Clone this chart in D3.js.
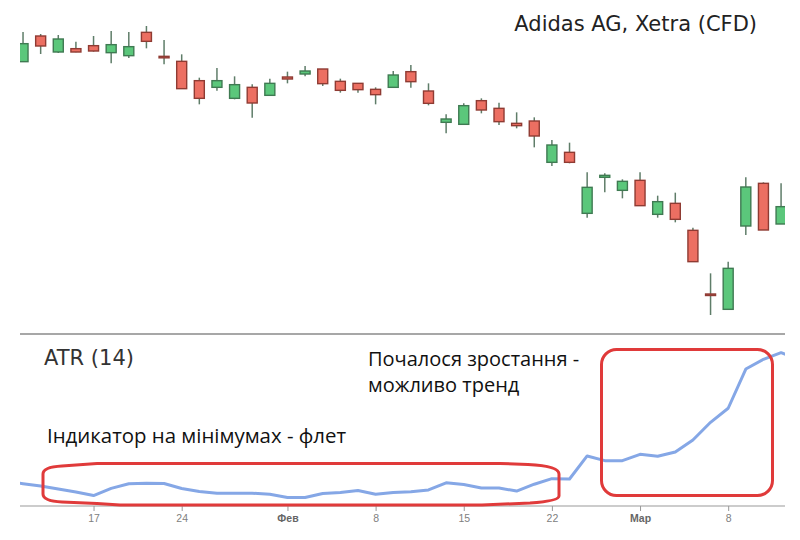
<!DOCTYPE html>
<html><head><meta charset="utf-8">
<script src="https://cdn.jsdelivr.net/npm/d3@7"></script>
<style>body{margin:0;background:#fff}svg{display:block}</style>
</head><body>
<script>
// ---- data ----
const dates = ["2022-01-10","2022-01-11","2022-01-12","2022-01-13","2022-01-14","2022-01-17","2022-01-18","2022-01-19","2022-01-20","2022-01-21","2022-01-24","2022-01-25","2022-01-26","2022-01-27","2022-01-28","2022-01-31","2022-02-01","2022-02-02","2022-02-03","2022-02-04","2022-02-07","2022-02-08","2022-02-09","2022-02-10","2022-02-11","2022-02-14","2022-02-15","2022-02-16","2022-02-17","2022-02-18","2022-02-21","2022-02-22","2022-02-23","2022-02-24","2022-02-25","2022-02-28","2022-03-01","2022-03-02","2022-03-03","2022-03-04","2022-03-07","2022-03-08","2022-03-09","2022-03-10","2022-03-11","2022-03-14"];
const candleDates = dates.slice(1, 45);
const open  = [252.5,260.2,255.4,256.4,257.3,255.2,254.3,261.3,254.1,252.6,246.8,244.8,241.5,244.8,242.4,247.9,248.8,250.3,246.6,246.0,244.2,244.8,249.5,243.7,234.3,233.7,240.8,238.5,234.0,234.7,222.3,225.3,207.0,217.8,213.9,216.9,206.7,210.0,201.9,182.8,178.2,203.2,216.0,203.8];
const high  = [261.4,260.8,260.5,258.5,260.2,261.7,261.4,263.2,259.0,254.7,247.7,250.6,248.1,245.7,247.4,249.5,251.2,250.3,247.4,246.0,244.8,249.7,251.5,246.0,236.7,240.0,241.5,240.2,237.3,235.8,229.0,228.2,219.3,219.0,217.2,219.3,212.3,213.2,202.7,189.0,192.5,217.8,216.3,216.0];
const low   = [252.5,254.8,255.1,255.3,255.5,252.0,253.6,256.5,251.7,244.4,239.7,243.8,241.2,235.7,242.4,246.0,248.1,245.2,243.2,243.2,239.7,244.8,244.7,239.4,231.0,233.7,237.0,233.5,232.5,226.8,221.2,222.0,205.7,213.3,211.5,209.3,205.7,204.3,192.5,176.5,178.2,200.5,202.0,203.8];
const close = [257.9,257.2,259.3,255.4,255.7,257.6,257.0,258.6,254.0,244.4,241.5,246.8,245.6,240.1,246.0,247.3,249.7,245.9,243.9,244.1,242.6,248.5,246.5,240.0,235.3,239.3,238.0,234.5,233.3,230.2,227.5,222.3,214.8,218.4,216.6,209.3,210.5,205.2,192.5,182.7,190.5,214.9,202.0,209.0];
const atr = [4.37,4.24,4.11,3.94,3.78,3.58,3.98,4.24,4.26,4.25,3.97,3.81,3.71,3.71,3.71,3.65,3.47,3.47,3.69,3.75,3.86,3.65,3.75,3.79,3.89,4.29,4.19,4.00,4.00,3.83,4.21,4.52,4.50,5.78,5.52,5.52,5.87,5.76,6.00,6.67,7.65,8.43,10.61,11.15,11.52,11.15];
const tickDates = ["2022-01-17","2022-01-24","2022-02-01","2022-02-08","2022-02-15","2022-02-22","2022-03-01","2022-03-08"];
const tickLabels = ["17","24","Фев","8","15","22","Мар","8"];
const tickBold = [false,false,true,false,false,false,true,false];

// ---- layout ----
const W = 800, H = 540;
const left = 20, right = 785;
const svg = d3.select("body").append("svg").attr("width", W).attr("height", H);

const x = d3.scalePoint().domain(dates).range([5.4, 798.7]);
const yP = d3.scaleLinear().domain([175, 265]).range([320, 20]);
const yA = d3.scaleLinear().domain([3, 12]).range([506, 344]);

svg.append("defs").append("clipPath").attr("id","clip")
  .append("rect").attr("x", left).attr("y", 0).attr("width", right - left).attr("height", H);

// separator line
svg.append("line").attr("x1", left).attr("x2", right).attr("y1", 334).attr("y2", 334)
  .attr("stroke", "#8a8a8a").attr("stroke-width", 1.5);

// candles
const candles = candleDates.map((d, i) => ({d, o: open[i], h: high[i], l: low[i], c: close[i]}));
const cg = svg.append("g").attr("clip-path", "url(#clip)");
const bw = 10;
const g = cg.selectAll("g.c").data(candles).enter().append("g");
g.append("line")
  .attr("x1", d => x(d.d)).attr("x2", d => x(d.d))
  .attr("y1", d => yP(d.h)).attr("y2", d => yP(d.l))
  .attr("stroke", "#5f7d69").attr("stroke-width", 1.5);
g.append("rect")
  .attr("x", d => x(d.d) - bw / 2)
  .attr("width", bw)
  .attr("y", d => yP(Math.max(d.o, d.c)))
  .attr("height", d => Math.max(1.5, Math.abs(yP(d.o) - yP(d.c))))
  .attr("fill", d => d.c >= d.o ? "#5bc77b" : "#ec6f62")
  .attr("stroke", d => d.c >= d.o ? "#3f7a52" : "#8f3b33")
  .attr("stroke-width", 1.4);

// ATR line
const ag = svg.append("g").attr("clip-path", "url(#clip)");
ag.append("path")
  .datum(dates.map((d, i) => ({d, v: atr[i]})))
  .attr("fill", "none").attr("stroke", "#85a7e6").attr("stroke-width", 3)
  .attr("stroke-linejoin", "round")
  .attr("d", d3.line().x(d => x(d.d)).y(d => yA(d.v)));

// axis
const axis = svg.append("g").attr("transform", "translate(0,506)")
  .call(d3.axisBottom(x).tickValues(tickDates).tickFormat((d, i) => tickLabels[i]).tickSize(5).tickPadding(4));
axis.select(".domain").remove();
axis.selectAll(".tick line").attr("stroke", "#999");
axis.selectAll(".tick text")
  .attr("fill", (d, i) => tickBold[i] ? "#666" : "#808080")
  .style("font-family", "'Liberation Sans', Arial, sans-serif")
  .style("font-size", "10.5px")
  .style("font-weight", (d, i) => tickBold[i] ? "bold" : "normal");
svg.append("line").attr("x1", left).attr("x2", right).attr("y1", 506).attr("y2", 506)
  .attr("stroke", "#999").attr("stroke-width", 1.2);

// texts
const font = "'Open Sans', 'DejaVu Sans', sans-serif";
const font2 = "'DejaVu Sans', sans-serif";
svg.append("text").attr("x", 757).attr("y", 31).attr("text-anchor", "end")
  .style("font-family", font2).style("font-size", "21px").attr("fill", "#222")
  .text("Adidas AG, Xetra (CFD)");
svg.append("text").attr("x", 44).attr("y", 365)
  .style("font-family", font2).style("font-size", "21px").attr("fill", "#333")
  .text("ATR (14)");
svg.append("text").attr("x", 368).attr("y", 366)
  .style("font-family", font).style("font-size", "20px").attr("fill", "#111")
  .text("Почалося зростання -");
svg.append("text").attr("x", 368).attr("y", 392)
  .style("font-family", font).style("font-size", "20px").attr("fill", "#111")
  .text("можливо тренд");
svg.append("text").attr("x", 47).attr("y", 443)
  .style("font-family", font).style("font-size", "20.4px").attr("fill", "#111")
  .text("Індикатор на мінімумах - флет");

// annotation boxes
const red = "#e03a3a";
svg.append("path")
  .attr("d", "M 43,474 Q 43,467 62,466 L 97,463.5 L 500,463.5 L 528,464.5 Q 559,466 559,474 L 559,496 Q 559,501 530,503 L 482,505 L 120,505 L 97,503.5 L 62,502 Q 43,501 43,494 Z")
  .attr("fill", "none").attr("stroke", red).attr("stroke-width", 3);
svg.append("rect").attr("x", 601.5).attr("y", 349.5).attr("width", 171).attr("height", 146).attr("rx", 15)
  .attr("fill", "none").attr("stroke", red).attr("stroke-width", 3);
</script>
</body></html>
